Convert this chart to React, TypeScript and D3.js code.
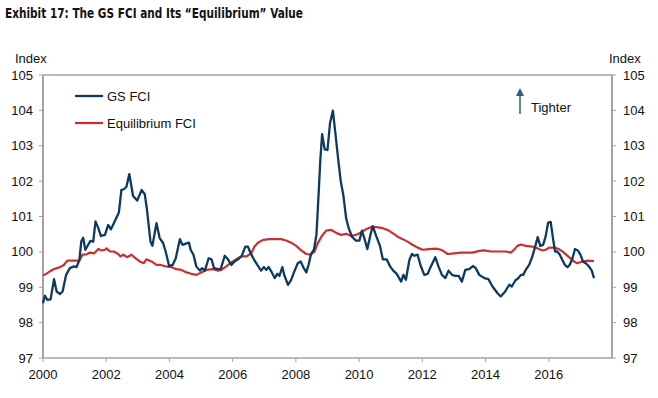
import * as d3 from "d3";

const fciDates = [
  2000.0, 2000.06, 2000.14, 2000.24, 2000.35, 2000.43, 2000.54, 2000.62, 2000.73, 2000.85, 2000.98,
  2001.06, 2001.15, 2001.21, 2001.27, 2001.34, 2001.43, 2001.5, 2001.59, 2001.66, 2001.75, 2001.83, 2001.96,
  2002.06, 2002.15, 2002.24, 2002.4, 2002.48, 2002.56, 2002.64, 2002.73, 2002.79, 2002.85, 2002.98,
  2003.12, 2003.22, 2003.29, 2003.4, 2003.46, 2003.59, 2003.69, 2003.8, 2003.88, 2003.99,
  2004.1, 2004.2, 2004.33, 2004.41, 2004.54, 2004.62, 2004.67, 2004.76, 2004.85, 2004.96,
  2005.03, 2005.12, 2005.24, 2005.33, 2005.41, 2005.54, 2005.62, 2005.75, 2005.85, 2005.96,
  2006.06, 2006.17, 2006.29, 2006.4, 2006.48, 2006.57, 2006.67, 2006.78, 2006.9, 2006.99,
  2007.06, 2007.14, 2007.24, 2007.33, 2007.41, 2007.48, 2007.57, 2007.64, 2007.75, 2007.85, 2007.96,
  2008.06, 2008.15, 2008.25, 2008.33, 2008.4, 2008.48, 2008.57, 2008.65, 2008.72, 2008.77, 2008.83, 2008.91,
  2009.0, 2009.08, 2009.17, 2009.25, 2009.34, 2009.42, 2009.5, 2009.59, 2009.67, 2009.78, 2009.9,
  2010.01, 2010.09, 2010.18, 2010.26, 2010.35, 2010.43, 2010.54, 2010.66, 2010.75, 2010.87, 2010.98,
  2011.08, 2011.19, 2011.33, 2011.4, 2011.48, 2011.59, 2011.67, 2011.75, 2011.85, 2011.94,
  2012.06, 2012.17, 2012.27, 2012.41, 2012.51, 2012.62, 2012.73, 2012.83, 2012.94,
  2013.04, 2013.15, 2013.25, 2013.36, 2013.48, 2013.61, 2013.69, 2013.8, 2013.96,
  2014.09, 2014.22, 2014.38, 2014.48, 2014.62, 2014.75, 2014.83, 2014.94,
  2015.04, 2015.12, 2015.19, 2015.27, 2015.38, 2015.48, 2015.57, 2015.65, 2015.73, 2015.82, 2015.9, 2015.98,
  2016.06, 2016.14, 2016.2, 2016.27, 2016.35, 2016.43, 2016.51, 2016.59, 2016.66, 2016.75, 2016.83, 2016.92,
  2017.0, 2017.08, 2017.17, 2017.27, 2017.36, 2017.43,
];

const fciValues = [
  98.55, 98.76, 98.64, 98.66, 99.23, 98.88, 98.81, 98.88, 99.35, 99.54, 99.59,
  99.57, 99.77, 100.29, 100.4, 100.06, 100.2, 100.31, 100.29, 100.86, 100.67, 100.45, 100.48,
  100.76, 100.64, 100.81, 101.11, 101.75, 101.77, 101.84, 102.2, 101.89, 101.58, 101.45,
  101.75, 101.63, 101.19, 100.29, 100.17, 100.81, 100.39, 100.25, 100.01, 99.6,
  99.63, 99.82, 100.36, 100.2, 100.24, 100.26, 100.06, 99.92, 99.59, 99.47,
  99.54, 99.47, 99.82, 99.79, 99.54, 99.51, 99.51, 99.89, 99.79, 99.63,
  99.73, 99.79, 99.89, 100.15, 100.15, 99.96, 99.79, 99.63, 99.47, 99.57,
  99.49, 99.57, 99.42, 99.26, 99.38, 99.32, 99.57, 99.32, 99.07, 99.21, 99.47,
  99.68, 99.73, 99.54, 99.42, 99.63, 99.94, 100.06, 100.48, 101.66, 102.55, 103.33, 102.9,
  102.88, 103.64, 103.99, 103.35, 102.6, 101.99, 101.61, 100.95, 100.67, 100.42, 100.32,
  100.32, 100.6, 100.34, 100.08, 100.45, 100.73, 100.45, 100.17, 99.79, 99.79, 99.59,
  99.47, 99.38, 99.16, 99.35, 99.21, 99.77, 99.94, 99.89, 99.92, 99.63,
  99.35, 99.38, 99.59, 99.85, 99.59, 99.35, 99.26, 99.47, 99.35,
  99.32, 99.32, 99.16, 99.49, 99.51, 99.6, 99.54, 99.35, 99.26,
  99.23, 99.02, 98.83, 98.74, 98.88, 99.07, 99.02, 99.19,
  99.26, 99.35, 99.35, 99.49, 99.63, 99.87, 100.15, 100.42, 100.17, 100.2, 100.43, 100.83,
  100.85, 100.34, 100.01, 100.01, 99.92, 99.77, 99.63, 99.57, 99.63, 99.82, 100.08, 100.04,
  99.92, 99.73, 99.68, 99.59, 99.47, 99.26,
];

const eqDates = [
  2000.0, 2000.17, 2000.33, 2000.54, 2000.66, 2000.77, 2000.96,
  2001.15, 2001.25, 2001.38, 2001.48, 2001.62, 2001.75, 2001.85, 2001.96,
  2002.01, 2002.12, 2002.24, 2002.38, 2002.45, 2002.54, 2002.66, 2002.8, 2002.9,
  2003.06, 2003.19, 2003.27, 2003.43, 2003.59, 2003.72, 2003.88,
  2004.06, 2004.22, 2004.38, 2004.54, 2004.69, 2004.85,
  2005.01, 2005.17, 2005.38, 2005.54, 2005.64, 2005.8, 2005.96,
  2006.12, 2006.27, 2006.43, 2006.59, 2006.69, 2006.8, 2006.96,
  2007.17, 2007.38, 2007.54, 2007.69, 2007.85,
  2008.01, 2008.17, 2008.33, 2008.46, 2008.59, 2008.69, 2008.82, 2008.96,
  2009.12, 2009.29, 2009.43, 2009.59, 2009.75, 2009.9,
  2010.06, 2010.22, 2010.38, 2010.54, 2010.75, 2010.9,
  2011.06, 2011.22, 2011.38, 2011.53, 2011.69, 2011.85,
  2012.01, 2012.22, 2012.43, 2012.59, 2012.69, 2012.8,
  2013.01, 2013.22, 2013.43, 2013.59, 2013.8, 2013.96,
  2014.17, 2014.43, 2014.64, 2014.8, 2014.9,
  2015.01, 2015.12, 2015.27, 2015.48, 2015.64, 2015.8, 2015.9,
  2016.01, 2016.17, 2016.32, 2016.48, 2016.64, 2016.8, 2016.9,
  2017.06, 2017.22, 2017.43,
];

const eqValues = [
  99.33, 99.42, 99.51, 99.57, 99.63, 99.75, 99.75,
  99.75, 99.92, 99.93, 99.98, 99.96, 100.08, 100.04, 100.06,
  100.1, 100.01, 100.01, 99.94, 99.87, 99.92, 99.85, 99.92, 99.84,
  99.73, 99.68, 99.79, 99.73, 99.63, 99.63, 99.59,
  99.57, 99.51, 99.49, 99.42, 99.38, 99.35,
  99.42, 99.49, 99.51, 99.47, 99.49, 99.59, 99.7,
  99.79, 99.87, 99.87, 99.96, 100.15, 100.26, 100.34,
  100.36, 100.36, 100.36, 100.32, 100.26,
  100.17, 100.04, 99.94, 99.92, 100.01, 100.24, 100.45, 100.6,
  100.62, 100.53, 100.48, 100.51, 100.45, 100.48,
  100.55, 100.64, 100.7, 100.7, 100.67, 100.62,
  100.53, 100.43, 100.36, 100.29, 100.2, 100.12,
  100.06, 100.08, 100.09, 100.06, 100.01, 99.94,
  99.96, 99.98, 99.98, 99.98, 100.03, 100.04,
  100.01, 100.01, 100.01, 99.98, 100.06,
  100.17, 100.21, 100.17, 100.15, 100.1, 100.04, 100.06,
  100.12, 100.12, 100.08, 99.98, 99.85, 99.73, 99.68,
  99.73, 99.75, 99.74,
];

const yTicks = [97, 98, 99, 100, 101, 102, 103, 104, 105];
const xTicks = [2000, 2002, 2004, 2006, 2008, 2010, 2012, 2014, 2016];

const W = 658;
const H = 398;
const left = 43;
const right = 612;
const top = 75;
const bottom = 358;

const navy = "#0d3a62";
const red = "#c9302e";
const axisGrey = "#a3a3a3";
const font = "'Liberation Sans', Arial, sans-serif";

export default function App() {
  const x = d3.scaleLinear().domain([2000, 2018]).range([left, right]);
  const y = d3.scaleLinear().domain([97, 105]).range([bottom, top]);

  const line = d3
    .line<[number, number]>()
    .x((d) => x(d[0]))
    .y((d) => y(d[1]));

  const fci = fciDates.map((d, i) => [d, fciValues[i]] as [number, number]);
  const eq = eqDates.map((d, i) => [d, eqValues[i]] as [number, number]);

  return (
    <svg
      width={W}
      height={H}
      style={{ position: "absolute", left: 0, top: 0, background: "#fff" }}
      fontFamily={font}
    >
      <text
        x={5}
        y={18}
        fontFamily="'Liberation Sans Narrow', 'DejaVu Sans Condensed', sans-serif"
        fontWeight="bold"
        fontSize={14}
        fill="#111"
        textLength={298}
        lengthAdjust="spacingAndGlyphs"
      >
        Exhibit 17: The GS FCI and Its “Equilibrium” Value
      </text>

      <text x={15} y={63} fontSize={13} fill="#111">Index</text>
      <text x={609} y={63} fontSize={13} fill="#111">Index</text>

      {/* frame */}
      <line x1={left} x2={right} y1={top} y2={top} stroke={axisGrey} strokeWidth={1.5} />
      <line x1={left} x2={right} y1={bottom} y2={bottom} stroke={axisGrey} strokeWidth={1.5} />
      <line x1={left} x2={left} y1={top} y2={bottom} stroke={axisGrey} strokeWidth={2} />
      <line x1={right} x2={right} y1={top} y2={bottom} stroke={axisGrey} strokeWidth={2} />

      {yTicks.map((t) => (
        <g key={t}>
          <line x1={left - 4} x2={left} y1={y(t)} y2={y(t)} stroke={axisGrey} strokeWidth={1} />
          <line x1={right} x2={right + 4} y1={y(t)} y2={y(t)} stroke={axisGrey} strokeWidth={1} />
          <text x={33} y={y(t)} dy="0.35em" textAnchor="end" fontSize={13} fill="#111">
            {t}
          </text>
          <text x={623} y={y(t)} dy="0.35em" fontSize={13} fill="#111">
            {t}
          </text>
        </g>
      ))}

      {xTicks.map((t) => (
        <g key={t}>
          <line x1={x(t)} x2={x(t)} y1={bottom} y2={bottom + 4} stroke={axisGrey} strokeWidth={1} />
          <text x={x(t)} y={379} textAnchor="middle" fontSize={13} fill="#111">
            {t}
          </text>
        </g>
      ))}

      <path d={line(eq) ?? ""} fill="none" stroke={red} strokeWidth={2.2} strokeLinejoin="round" />
      <path d={line(fci) ?? ""} fill="none" stroke={navy} strokeWidth={2.3} strokeLinejoin="round" />

      {/* legend */}
      <line x1={75} x2={103} y1={96} y2={96} stroke={navy} strokeWidth={2.3} />
      <text x={107} y={96} dy="0.35em" fontSize={13} fill="#111">GS FCI</text>
      <line x1={75} x2={103} y1={123} y2={123} stroke={red} strokeWidth={2.2} />
      <text x={107} y={123} dy="0.35em" fontSize={13} fill="#111">Equilibrium FCI</text>

      {/* tighter arrow */}
      <line x1={520} x2={520} y1={95} y2={114} stroke="#2a6577" strokeWidth={1.5} />
      <path d="M516,96 L520,88 L524,96 Z" fill="#2a6577" />
      <text x={531} y={107} dy="0.35em" fontSize={13} fill="#111">Tighter</text>
    </svg>
  );
}
